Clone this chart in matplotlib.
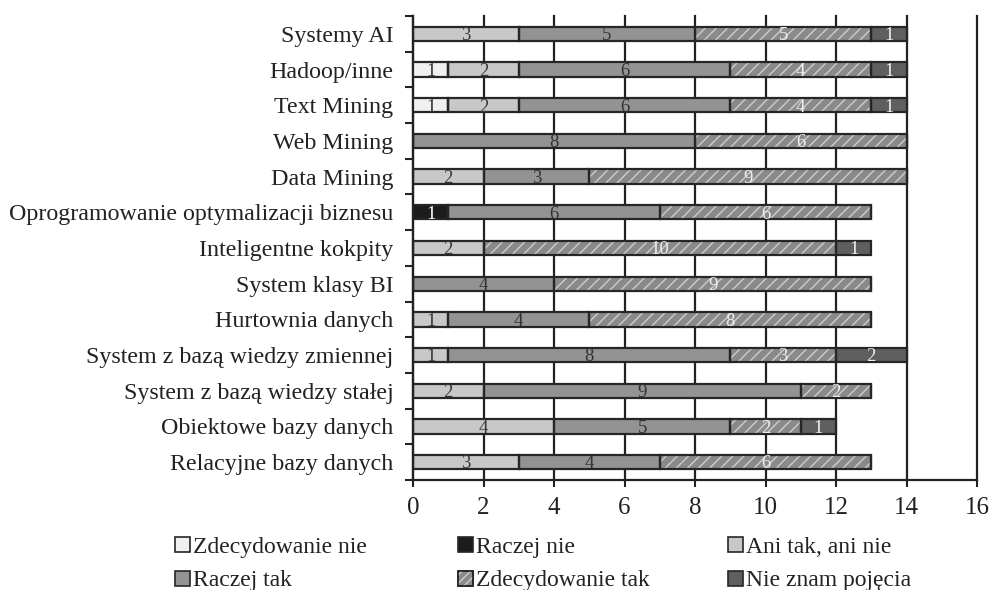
import matplotlib
matplotlib.use("Agg")
import matplotlib.pyplot as plt
from matplotlib.patches import Patch
from matplotlib.legend_handler import HandlerTuple
import numpy as np

plt.rcParams['font.family'] = ['Liberation Serif', 'DejaVu Serif']
plt.rcParams['hatch.linewidth'] = 1.0

categories = [
    "Relacyjne bazy danych",
    "Obiektowe bazy danych",
    "System z bazą wiedzy stałej",
    "System z bazą wiedzy zmiennej",
    "Hurtownia danych",
    "System klasy BI",
    "Inteligentne kokpity",
    "Oprogramowanie optymalizacji biznesu",
    "Data Mining",
    "Web Mining",
    "Text Mining",
    "Hadoop/inne",
    "Systemy AI",
]
series_names = ["Zdecydowanie nie", "Raczej nie", "Ani tak, ani nie",
                "Raczej tak", "Zdecydowanie tak", "Nie znam pojęcia"]
zdecydowanie_nie = [0, 0, 0, 0, 0, 0, 0, 0, 0, 0, 1, 1, 0]
raczej_nie       = [0, 0, 0, 0, 0, 0, 0, 1, 0, 0, 0, 0, 0]
ani_tak_ani_nie  = [3, 4, 2, 1, 1, 0, 2, 0, 2, 0, 2, 2, 3]
raczej_tak       = [4, 5, 9, 8, 4, 4, 0, 6, 3, 8, 6, 6, 5]
zdecydowanie_tak = [6, 2, 2, 3, 8, 9, 10, 6, 9, 6, 4, 4, 5]
nie_znam         = [0, 1, 0, 2, 0, 0, 1, 0, 0, 0, 1, 1, 1]
series = [zdecydowanie_nie, raczej_nie, ani_tak_ani_nie,
          raczej_tak, zdecydowanie_tak, nie_znam]
x_ticks = [0, 2, 4, 6, 8, 10, 12, 14, 16]

face = ['#f0f0f0', '#1c1c1c', '#c8c8c8', '#939393', '#8a8a8a', '#5f5f5f']
hatches = [None, None, None, None, '///', None]
txtcol = ['#333333', '#ffffff', '#3a3a3a', '#333333', '#eeeeee', '#eeeeee']
edge = '#262626'

fig = plt.figure(figsize=(9.91, 5.90), dpi=100)
ax = fig.add_axes([413/991, 1-480/590, (977-413)/991, (480-16)/590])

y = np.arange(len(categories))
h = 0.4
left = np.zeros(len(categories))
for vals, fc, ht, tc in zip(series, face, hatches, txtcol):
    v = np.array(vals, dtype=float)
    ax.barh(y, v, height=h, left=left, color=fc, edgecolor='none', linewidth=0, zorder=3)
    if ht:
        ax.barh(y, v, height=h, left=left, color='none', edgecolor='#cdcdcd',
                linewidth=0, hatch=ht, zorder=3.5)
    ax.barh(y, v, height=h, left=left, color='none', edgecolor=edge,
            linewidth=1.6, zorder=4)
    for yi, (l, w) in enumerate(zip(left, v)):
        if w > 0:
            ax.text(l + w/2, yi - 0.05, f"{int(w)}", ha='center', va='center',
                    fontsize=13.5, color=tc, zorder=5)
    left += v

ax.set_xlim(0, 16)
ax.set_ylim(-0.5, len(categories) - 0.5)
ax.set_xticks(x_ticks)
ax.set_xticklabels([str(t) for t in x_ticks])
ax.set_yticks(y)
ax.set_yticklabels(categories)
ax.set_yticks(np.arange(-0.5, len(categories), 1.0), minor=True)
ax.tick_params(axis='y', which='major', length=0, pad=14, labelsize=17.3, colors='#222222')
ax.tick_params(axis='y', which='minor', length=6, width=1.5, color='#222222')
ax.tick_params(axis='x', which='major', length=5, width=1.5, color='#222222',
               labelsize=18, pad=7, labelcolor='#222222')
ax.grid(axis='x', color='#222222', linewidth=1.6, zorder=1)
for g in ax.get_xgridlines():
    g.set_clip_on(False)
ax.set_axisbelow(True)
for s in ['top', 'right']:
    ax.spines[s].set_visible(False)
for s in ['left', 'bottom']:
    ax.spines[s].set_linewidth(1.6)
    ax.spines[s].set_color('#222222')

def handle(i):
    base = Patch(facecolor=face[i], edgecolor=edge, linewidth=1.2)
    if hatches[i]:
        over = Patch(facecolor='none', edgecolor='#cdcdcd', linewidth=0, hatch='////')
        border = Patch(facecolor='none', edgecolor=edge, linewidth=1.2)
        return (base, over, border)
    return base

cols = [(175, [0, 3]), (458, [1, 4]), (728, [2, 5])]
for xpix, idx in cols:
    leg = fig.legend([handle(i) for i in idx], [series_names[i] for i in idx],
                     loc='center left', bbox_to_anchor=(xpix/991, 1-564/590),
                     frameon=False, fontsize=17, handlelength=0.62, handleheight=0.62,
                     handletextpad=0.15, labelspacing=0.55, borderpad=0, borderaxespad=0,
                     handler_map={tuple: HandlerTuple(ndivide=1, pad=0)})
    for t in leg.get_texts():
        t.set_color('#222222')

fig.savefig('out.png', dpi=100)
